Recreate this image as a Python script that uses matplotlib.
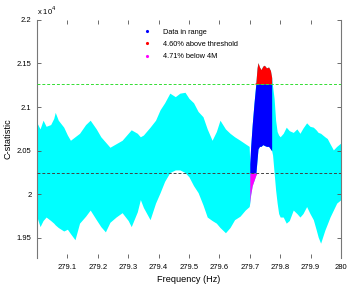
import matplotlib
matplotlib.use("Agg")
import numpy as np
import matplotlib.pyplot as plt
from matplotlib.lines import Line2D
from matplotlib.ticker import FuncFormatter

plt.rcParams['font.family'] = ['Liberation Sans', 'DejaVu Sans']

# envelope of the C-statistic cloud (values in C units)
freq = [279.000, 279.010, 279.020, 279.030, 279.045, 279.055, 279.060, 279.070,
        279.088, 279.100, 279.110, 279.125, 279.140, 279.160, 279.175, 279.195,
        279.210, 279.225, 279.240, 279.260, 279.280, 279.300, 279.310, 279.330,
        279.340, 279.350, 279.372, 279.390, 279.405, 279.420, 279.437, 279.455,
        279.470, 279.487, 279.500, 279.515, 279.530, 279.546, 279.560, 279.576,
        279.590, 279.602, 279.620, 279.635, 279.650, 279.668, 279.685, 279.698,
        279.700, 279.703, 279.708, 279.714, 279.720, 279.724, 279.727, 279.732,
        279.737, 279.743, 279.748, 279.755, 279.762, 279.768, 279.772,
        279.775, 279.780, 279.785, 279.790, 279.795, 279.800, 279.810, 279.820,
        279.830, 279.843, 279.855, 279.865, 279.875, 279.887, 279.898, 279.909,
        279.918, 279.925, 279.933, 279.947, 279.955, 279.964, 279.975, 279.986,
        280.000]
c_upper = [20820, 20750, 20850, 20780, 20800, 20870, 20940, 20850,
           20770, 20680, 20620, 20660, 20700, 20800, 20850, 20750,
           20660, 20600, 20540, 20580, 20620, 20700, 20740, 20700,
           20660, 20680, 20770, 20850, 20970, 21050, 21160, 21120,
           21160, 21170, 21100, 21050, 20950, 20890, 20750, 20620,
           20720, 20850, 20750, 20700, 20660, 20620, 20580, 20550,
           20350, 20550, 20800, 21050, 21280, 21450, 21510, 21460,
           21430, 21470, 21480, 21450, 21460, 21420, 21340,
           21240, 21100, 20850, 20720, 20680, 20660, 20700, 20770,
           20730, 20710, 20750, 20700, 20760, 20820, 20780, 20770,
           20740, 20710, 20700, 20660, 20640, 20580, 20510, 20550,
           20590]
c_lower = [19740, 19630, 19700, 19740, 19700, 19670, 19650, 19620,
           19580, 19600, 19550, 19480, 19670, 19750, 19820, 19710,
           19630, 19570, 19680, 19740, 19790, 19700, 19630, 19800,
           19940, 19850, 19710, 19900, 20020, 20150, 20250, 20280,
           20280, 20250, 20200, 20100, 20020, 19880, 19740, 19700,
           19670, 19620, 19560, 19620, 19710, 19750, 19820, 19860,
           19900, 20000, 20100, 20160, 20220, 20400, 20520, 20550,
           20550, 20570, 20560, 20550, 20550, 20520, 20500,
           20450, 20250, 20050, 19900, 19780, 19740, 19740, 19670,
           19700, 19820, 19780, 19740, 19780, 19860, 19780, 19710,
           19600, 19510, 19440, 19590, 19660, 19740, 19820, 19900,
           19940]

range_lo, range_hi = 279.700, 279.772
upper_thr = 21266
lower_thr = 20245

legend_labels = ["Data in range", "4.60% above threshold", "4.71% below 4M"]

f = np.array(freq)
up = np.array(c_upper, dtype=float)
lo = np.array(c_lower, dtype=float)
inr = (f >= range_lo) & (f <= range_hi)

fig = plt.figure(figsize=(3.49, 2.88), dpi=100)
ax = fig.add_axes([0.106, 0.104, 0.871, 0.827])

ax.fill_between(f, lo, up, color='#00ffff', lw=0, zorder=1)

fr, ur, lr = f[inr], up[inr], lo[inr]
ax.fill_between(fr, np.clip(lr, lower_thr, upper_thr), np.clip(ur, lower_thr, upper_thr),
                color='#0000ff', lw=0, zorder=2)
ax.fill_between(fr, upper_thr, np.maximum(ur, upper_thr), where=ur > upper_thr,
                interpolate=True, color='#ff0000', lw=0, zorder=2)
ax.fill_between(fr, np.minimum(lr, lower_thr), lower_thr, where=lr < lower_thr,
                interpolate=True, color='#ff00ff', lw=0, zorder=2)

ax.axhline(upper_thr, color='#33dd33', ls='--', lw=0.7, dashes=(3, 2), zorder=3)
ax.axhline(lower_thr, color='#444444', ls='--', lw=0.7, dashes=(3, 2), zorder=3)

ax.set_xlim(279.0, 280.0)
ax.set_ylim(19270, 22000)
ax.set_xticks([279.1, 279.2, 279.3, 279.4, 279.5, 279.6, 279.7, 279.8, 279.9, 280.0])
ax.xaxis.set_major_formatter(FuncFormatter(lambda v, p: f'{v:g}'))
ax.set_yticks([19500, 20000, 20500, 21000, 21500, 22000])
ax.yaxis.set_major_formatter(FuncFormatter(lambda v, p: f'{v / 1e4:g}'))
ax.tick_params(direction='in', length=3, width=0.6, color='#555555',
               labelsize=5.5, top=True, right=True, pad=4)

for s in ['top', 'bottom']:
    ax.spines[s].set_visible(False)
for s in ['left', 'right']:
    ax.spines[s].set_color('#777777')
    ax.spines[s].set_linewidth(0.8)

ax.text(0.0, 1.012, r'x 10$^4$', transform=ax.transAxes, fontsize=5.5,
        ha='left', va='bottom')
ax.set_xlabel('Frequency (Hz)', fontsize=6.6, labelpad=3)
ax.set_ylabel('C-statistic', fontsize=6.6, labelpad=3)

handles = [Line2D([], [], ls='none', marker='.', ms=2.5, color=c)
           for c in ['#0000ff', '#ff0000', '#ff00ff']]
ax.legend(handles, legend_labels, loc='upper left', bbox_to_anchor=(0.33, 0.985),
          frameon=False, fontsize=5.3, handlelength=1.2, handletextpad=1.6,
          labelspacing=0.7, borderaxespad=0.3)

fig.savefig('out.png', dpi=100)
